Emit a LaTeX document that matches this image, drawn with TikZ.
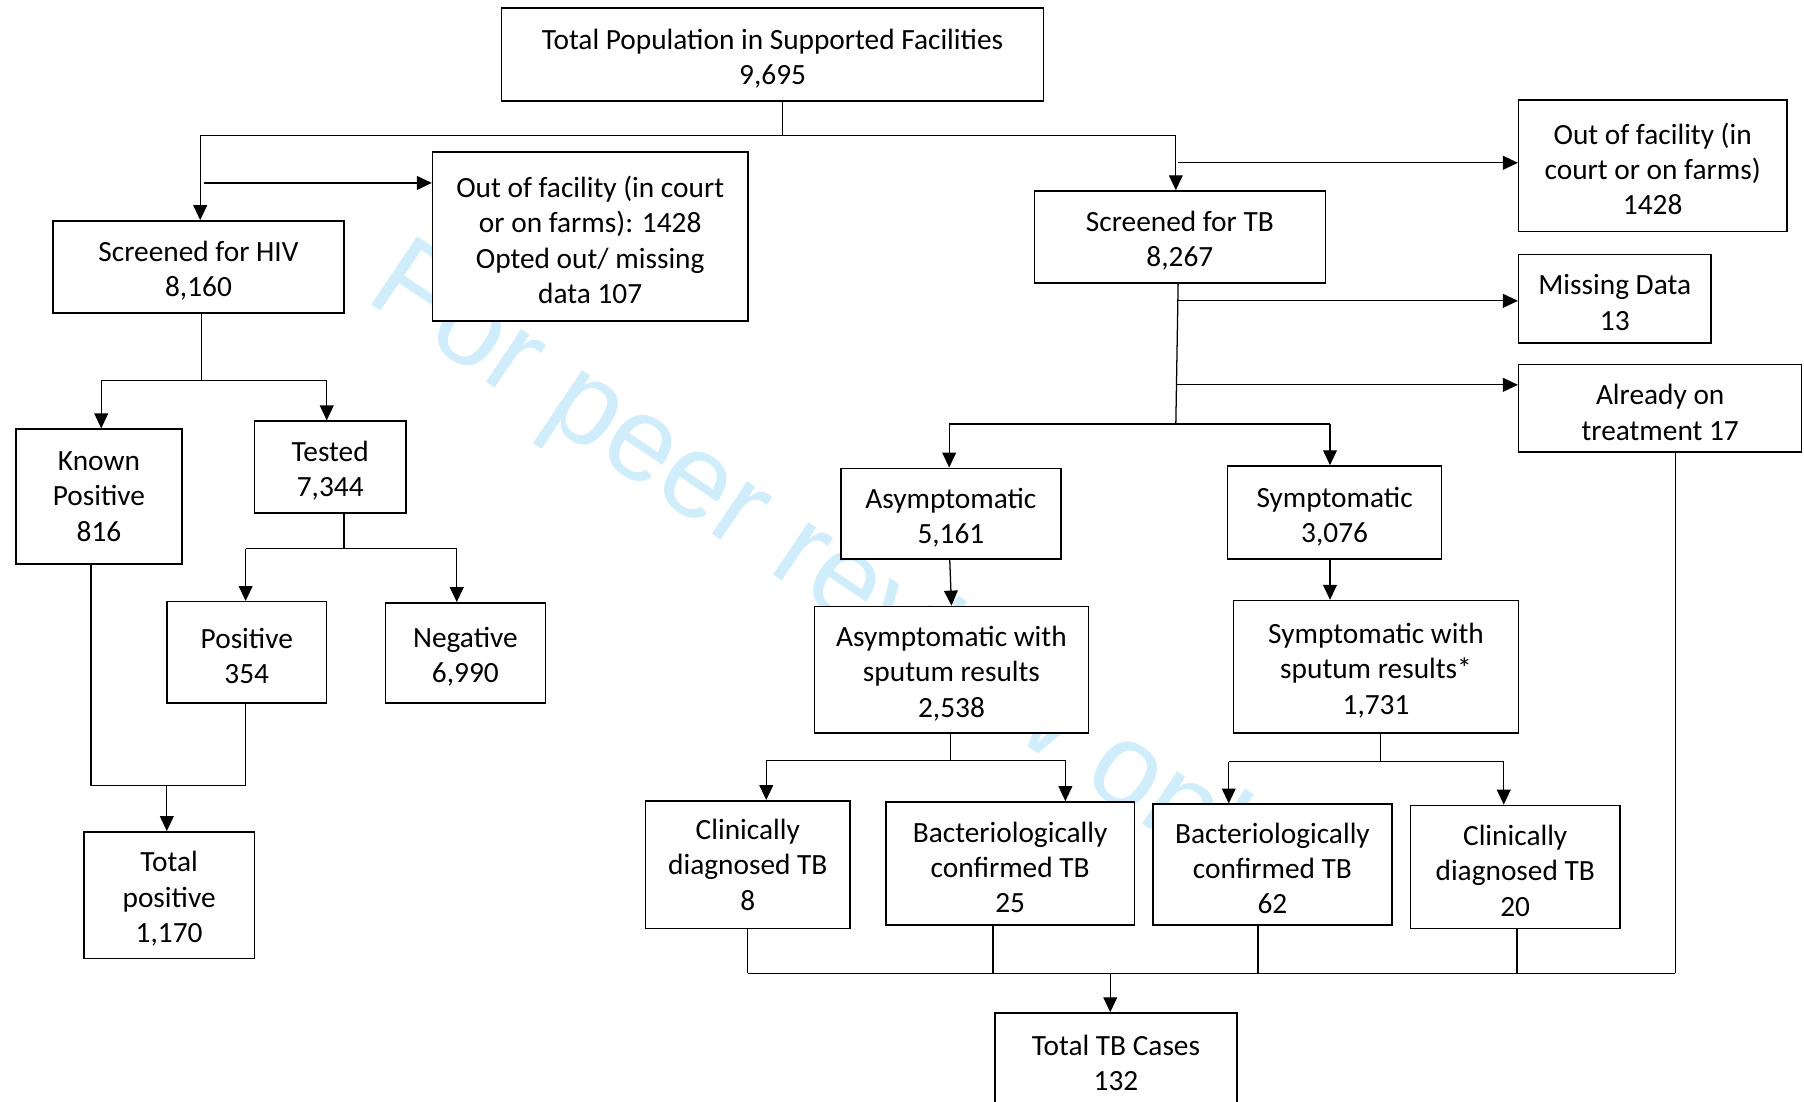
\documentclass[tikz,border=0pt]{standalone}
\usepackage{fontspec}
\setmainfont{Carlito}
\newfontfamily\wmfont{Liberation Sans}
\usetikzlibrary{arrows.meta}
\definecolor{wmblue}{RGB}{208,237,251}
\newcommand\bts{\rule{0pt}{24.5pt}}
\tikzset{
  box/.style={draw=black, line width=1.3pt, fill=white, align=center, inner sep=0pt,
              font=\fontsize{25.5}{30.7}\selectfont},
  conn/.style={line width=1.1pt, draw=black},
  arr/.style={conn, -{Triangle[length=13pt,width=12pt]}},
}
\begin{document}
\begin{tikzpicture}[x=1pt,y=-1pt]
\useasboundingbox (0,0) rectangle (1568,957);
% watermark
\node[font=\wmfont\fontsize{104}{104}\selectfont, text=wmblue, rotate=-34,
      anchor=base west, inner sep=0pt] (wm) at (316,260) {For peer review only};

% boxes
\node[box, minimum width=471pt, minimum height=81pt] (top) at (671.5,47.5) {\bts Total Population in Supported Facilities\\9,695};
\node[box, minimum width=253pt, minimum height=80pt] (hiv) at (172.5,232) {\bts Screened for HIV\\8,160};
\node[box, minimum width=274pt, minimum height=147pt] (outL) at (513,205.5) {\bts Out of facility (in court\\or on farms): 1428\\Opted out/ missing\\data 107};
\node[box, minimum width=253pt, minimum height=80pt] (tb) at (1025.5,206) {\bts Screened for TB\\8,267};
\node[box, minimum width=233pt, minimum height=114pt] (outR) at (1436.5,144) {\bts Out of facility (in\\court or on farms)\\1428};
\node[box, minimum width=167pt, minimum height=77pt] (miss) at (1403.5,259.5) {\bts Missing Data\\13};
\node[box, minimum width=246pt, minimum height=76pt] (treat) at (1443,355) {\bts Already on\\treatment 17};
\node[box, minimum width=144pt, minimum height=117pt] (known) at (86,431.5) {Known\\Positive\\816};
\node[box, minimum width=132pt, minimum height=80pt] (tested) at (287,406) {\bts Tested\\7,344};
\node[box, minimum width=139pt, minimum height=88pt] (pos) at (214.5,567) {\bts Positive\\354};
\node[box, minimum width=139pt, minimum height=87pt] (neg) at (404.5,567.5) {\bts Negative\\6,990};
\node[box, minimum width=148pt, minimum height=110pt] (totpos) at (147,778) {\bts Total\\positive\\1,170};
\node[box, minimum width=191pt, minimum height=79pt] (asym) at (826.5,446.5) {\bts Asymptomatic\\5,161};
\node[box, minimum width=186pt, minimum height=81pt] (sym) at (1160,445.5) {\bts Symptomatic\\3,076};
\node[box, minimum width=238pt, minimum height=110pt] (asyms) at (827,582) {\bts Asymptomatic with\\sputum results\\2,538};
\node[box, minimum width=248pt, minimum height=115pt] (syms) at (1196,579.5) {\bts Symptomatic with\\sputum results*\\1,731};
\node[box, minimum width=178pt, minimum height=111pt] (clinA) at (650,751.5) {Clinically\\diagnosed TB\\8};
\node[box, minimum width=216pt, minimum height=107pt] (bactA) at (878,750.5) {\bts Bacteriologically\\confirmed TB\\25};
\node[box, minimum width=208pt, minimum height=105pt] (bactS) at (1106,751.5) {\bts Bacteriologically\\confirmed TB\\62};
\node[box, minimum width=182pt, minimum height=107pt] (clinS) at (1317,753.5) {\bts Clinically\\diagnosed TB\\20};
\node[box, minimum width=210pt, minimum height=80pt] (tbc) at (970,920.5) {\bts Total TB Cases\\132};

% junction coordinates
\coordinate (jTop) at (680,118);
\coordinate (jL) at (174,118);
\coordinate (jR) at (1022,118);
\coordinate (aL) at (177,159);
\coordinate (aR) at (1024,141.5);
\coordinate (aM) at (1024,261.5);
\coordinate (aT) at (1023,334.5);
\coordinate (jTB) at (1022,368.5);
\coordinate (jTBl) at (825,368.5);
\coordinate (jTBr) at (1156,368.5);
\coordinate (jH) at (175,330.5);
\coordinate (jHl) at (88,330.5);
\coordinate (jHr) at (284,330.5);
\coordinate (jT) at (299,477);
\coordinate (jTl) at (213.5,477);
\coordinate (jTr) at (397,477);
\coordinate (jK) at (79,683);
\coordinate (jP) at (213.5,683);
\coordinate (jKP) at (145,683);
\coordinate (jA) at (826,661);
\coordinate (jAl) at (666,661);
\coordinate (jAr) at (926,661);
\coordinate (jS) at (1200,662);
\coordinate (jSl) at (1068,662);
\coordinate (jSr) at (1307,662);
\coordinate (bL) at (650,846);
\coordinate (bR) at (1456,846);
\coordinate (bM) at (965,846);

% top split
\draw[conn] (top.south -| jTop) -- (jTop);
\draw[conn] (jL) -- (jR);
\draw[arr] (jL) -- (jL |- hiv.north);
\draw[arr] (aL) -- (aL -| outL.west);
\draw[arr] (jR) -- (jR |- tb.north);
\draw[arr] (aR) -- (aR -| outR.west);

% TB side
\draw[conn] (tb.south -| aR) -- (jTB);
\draw[arr] (aM) -- (aM -| miss.west);
\draw[arr] (aT) -- (aT -| treat.west);
\draw[conn] (jTBl) -- (jTBr);
\draw[arr] (jTBl) -- (jTBl |- asym.north);
\draw[arr] (jTBr) -- (jTBr |- sym.north);
\draw[arr] ([xshift=-1pt]asym.south) -- (asyms.north);
\draw[arr] (sym.south -| jTBr) -- (jTBr |- syms.north);
\draw[conn] (asyms.south -| jA) -- (jA);
\draw[conn] (jAl) -- (jAr);
\draw[arr] (jAl) -- (jAl |- clinA.north);
\draw[arr] (jAr) -- (jAr |- bactA.north);
\draw[conn] (syms.south -| jS) -- (jS);
\draw[conn] (jSl) -- (jSr);
\draw[arr] (jSl) -- (jSl |- bactS.north);
\draw[arr] (jSr) -- (jSr |- clinS.north);

% bottom collection
\draw[conn] (clinA.south) -- (clinA.south |- bL);
\draw[conn] ([xshift=-15pt]bactA.south) -- ([xshift=-15pt]bactA.south |- bL);
\draw[conn] ([xshift=-12.5pt]bactS.south) -- ([xshift=-12.5pt]bactS.south |- bL);
\draw[conn] ([xshift=1.5pt]clinS.south) -- ([xshift=1.5pt]clinS.south |- bL);
\draw[conn] (treat.south -| bR) -- (bR);
\draw[conn] (bL) -- (bR);
\draw[arr] (bM) -- (bM |- tbc.north);

% HIV side
\draw[conn] (hiv.south -| jH) -- (jH);
\draw[conn] (jHl) -- (jHr);
\draw[arr] (jHl) -- (jHl |- known.north);
\draw[arr] (jHr) -- (jHr |- tested.north);
\draw[conn] (tested.south -| jT) -- (jT);
\draw[conn] (jTl) -- (jTr);
\draw[arr] (jTl) -- (jTl |- pos.north);
\draw[arr] (jTr) -- (jTr |- neg.north);
\draw[conn] (known.south -| jK) -- (jK);
\draw[conn] (pos.south -| jP) -- (jP);
\draw[conn] (jK) -- (jP);
\draw[arr] (jKP) -- (jKP |- totpos.north);
\end{tikzpicture}
\end{document}
